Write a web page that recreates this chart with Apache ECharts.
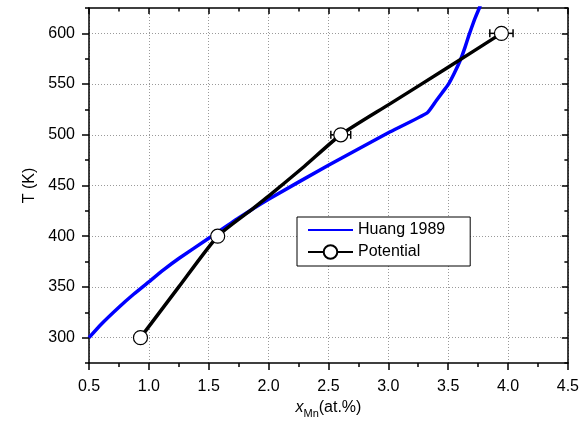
<!DOCTYPE html>
<html>
<head>
<meta charset="utf-8">
<script src="https://cdn.jsdelivr.net/npm/echarts@6/dist/echarts.min.js"></script>
<style>
  html, body { margin: 0; padding: 0; background: #fff; }
  #chart { width: 582px; height: 432px; }
</style>
</head>
<body>
<div id="chart"></div>
<script>
// Huang 1989 solvus (composition in at.% Mn, temperature in K)
const huangX = [0.5, 0.6, 0.75, 0.875, 1.0, 1.125, 1.25, 1.5, 1.75, 2.0, 2.5, 3.0, 3.325, 3.40, 3.45, 3.5, 3.55, 3.603, 3.64, 3.673, 3.72, 3.76, 3.80];
const huangT = [300, 313, 330, 343, 355, 367, 378, 398, 418, 436.5, 470, 502, 521.6, 533.5, 541.5, 549.4, 560.5, 574, 586, 598, 613.5, 625, 638];

// Potential: fitted curve through the computed points
const potCurveX = [0.93, 1.25, 1.575, 1.85, 2.0, 2.3, 2.603, 3.0, 3.5, 3.945];
const potCurveT = [300, 350, 400, 425.5, 439.5, 469, 500, 529.5, 566.5, 600];

// Potential: computed points with horizontal uncertainty
const potX = [0.93, 1.575, 2.603, 3.945];
const potT = [300, 400, 500, 600];
const potErr = [0, 0.03, 0.083, 0.097];

// Axis ticks
const xTicks = { min: 0.5, max: 4.5, step: 0.5 };
const yRange = { min: 275, max: 625 };
const yMajor = [300, 350, 400, 450, 500, 550, 600];

const zip = (a, b) => a.map((v, i) => [v, b[i]]);

const font = 'Liberation Sans, Arial, sans-serif';
const axisLine = { show: true, lineStyle: { color: '#000', width: 1.5 } };
const grid = { left: 89, right: 13, top: 8, bottom: 69 };
const gridLine = { show: true, lineStyle: { color: '#9a9a9a', type: [1, 2], width: 1 } };

const chart = echarts.init(document.getElementById('chart'), null, { renderer: 'canvas' });

chart.setOption({
  animation: false,
  backgroundColor: '#fff',
  grid: grid,
  xAxis: [
    {
      type: 'value', position: 'bottom',
      min: xTicks.min, max: xTicks.max, interval: xTicks.step,
      axisLine: axisLine,
      axisTick: { show: true, inside: false, length: 7, lineStyle: { color: '#000', width: 1.5 } },
      minorTick: { show: true, splitNumber: 2, length: 4, lineStyle: { color: '#000', width: 1.5 } },
      splitLine: gridLine,
      axisLabel: { color: '#000', fontSize: 16, fontFamily: font, margin: 16,
                   formatter: v => v.toFixed(1) },
      name: '{i|x}{s|Mn}{n|(at.%)}',
      nameLocation: 'middle',
      nameGap: 27,
      nameTextStyle: {
        color: '#000', fontFamily: font, fontSize: 16,
        rich: {
          i: { fontStyle: 'italic', fontSize: 16, fontFamily: font, color: '#000', lineHeight: 24 },
          s: { fontSize: 11, fontFamily: font, color: '#000', lineHeight: 12, verticalAlign: 'bottom' },
          n: { fontSize: 16, fontFamily: font, color: '#000', lineHeight: 24 }
        }
      }
    },
    {
      type: 'value', position: 'top',
      min: xTicks.min, max: xTicks.max, interval: xTicks.step,
      axisLine: axisLine,
      axisTick: { show: true, inside: true, length: 6, lineStyle: { color: '#000', width: 1.5 } },
      minorTick: { show: true, splitNumber: 2, length: 3.5, lineStyle: { color: '#000', width: 1.5 } },
      splitLine: { show: false },
      axisLabel: { show: false }
    }
  ],
  yAxis: [
    {
      type: 'value', position: 'left',
      min: yRange.min, max: yRange.max,
      axisLine: axisLine,
      axisTick: { show: true, inside: false, length: 7, customValues: yMajor, lineStyle: { color: '#000', width: 1.5 } },
      splitLine: gridLine,
      axisLabel: { color: '#000', fontSize: 16, fontFamily: font, margin: 14, customValues: yMajor },
      name: 'T (K)',
      nameLocation: 'middle',
      nameGap: 44,
      nameTextStyle: { color: '#000', fontSize: 16, fontFamily: font }
    },
    {
      // minor ticks on the left side
      type: 'value', position: 'left',
      min: yRange.min, max: yRange.max, interval: 25,
      axisLine: { show: false },
      axisTick: { show: true, inside: false, length: 4, lineStyle: { color: '#000', width: 1.5 } },
      splitLine: { show: false },
      axisLabel: { show: false }
    },
    {
      type: 'value', position: 'right',
      min: yRange.min, max: yRange.max,
      axisLine: axisLine,
      axisTick: { show: true, inside: true, length: 6, customValues: yMajor, lineStyle: { color: '#000', width: 1.5 } },
      splitLine: { show: false },
      axisLabel: { show: false }
    },
    {
      // minor ticks on the right side
      type: 'value', position: 'right',
      min: yRange.min, max: yRange.max, interval: 25,
      axisLine: { show: false },
      axisTick: { show: true, inside: true, length: 3.5, lineStyle: { color: '#000', width: 1.5 } },
      splitLine: { show: false },
      axisLabel: { show: false }
    }
  ],
  legend: {
    orient: 'vertical',
    left: 297, top: 217,
    padding: [5, 25, 6, 10],
    itemWidth: 45, itemHeight: 17, itemGap: 6,
    backgroundColor: '#fff',
    borderColor: '#000', borderWidth: 1,
    textStyle: { color: '#000', fontSize: 16, fontFamily: font },
    data: [
      { name: 'Huang 1989', itemStyle: { opacity: 0 } },
      { name: 'Potential' }
    ]
  },
  series: [
    {
      name: 'Huang 1989',
      type: 'line',
      xAxisIndex: 0, yAxisIndex: 0,
      data: zip(huangX, huangT),
      symbol: 'none',
      smooth: 0.15,
      clip: true,
      lineStyle: { color: '#0000ff', width: 3.5, join: 'round' },
      itemStyle: { color: '#0000ff' },
      z: 2
    },
    {
      name: 'Potential',
      type: 'line',
      xAxisIndex: 0, yAxisIndex: 0,
      data: zip(potCurveX, potCurveT),
      symbol: 'circle',
      showSymbol: false,
      smooth: 0.2,
      clip: true,
      lineStyle: { color: '#000', width: 3.5, join: 'round' },
      itemStyle: { color: '#fff', borderColor: '#000', borderWidth: 1.5 },
      z: 3
    },
    {
      name: 'Potential error',
      type: 'custom',
      xAxisIndex: 0, yAxisIndex: 0,
      data: potX.map((x, i) => [x, potT[i], potErr[i]]),
      renderItem: function (params, api) {
        const x = api.value(0), y = api.value(1), e = api.value(2);
        const l = api.coord([x - e, y]);
        const r = api.coord([x + e, y]);
        const h = 4;
        const st = { stroke: '#000', lineWidth: 1.5 };
        return {
          type: 'group',
          children: [
            { type: 'line', shape: { x1: l[0], y1: l[1], x2: r[0], y2: r[1] }, style: st },
            { type: 'line', shape: { x1: l[0], y1: l[1] - h, x2: l[0], y2: l[1] + h }, style: st },
            { type: 'line', shape: { x1: r[0], y1: r[1] - h, x2: r[0], y2: r[1] + h }, style: st }
          ]
        };
      },
      z: 4
    },
    {
      name: 'Potential points',
      type: 'scatter',
      xAxisIndex: 0, yAxisIndex: 0,
      data: zip(potX, potT),
      symbol: 'circle',
      symbolSize: 14,
      itemStyle: { color: '#fff', borderColor: '#000', borderWidth: 1.2, opacity: 1 },
      z: 5
    }
  ]
});
</script>
</body>
</html>
